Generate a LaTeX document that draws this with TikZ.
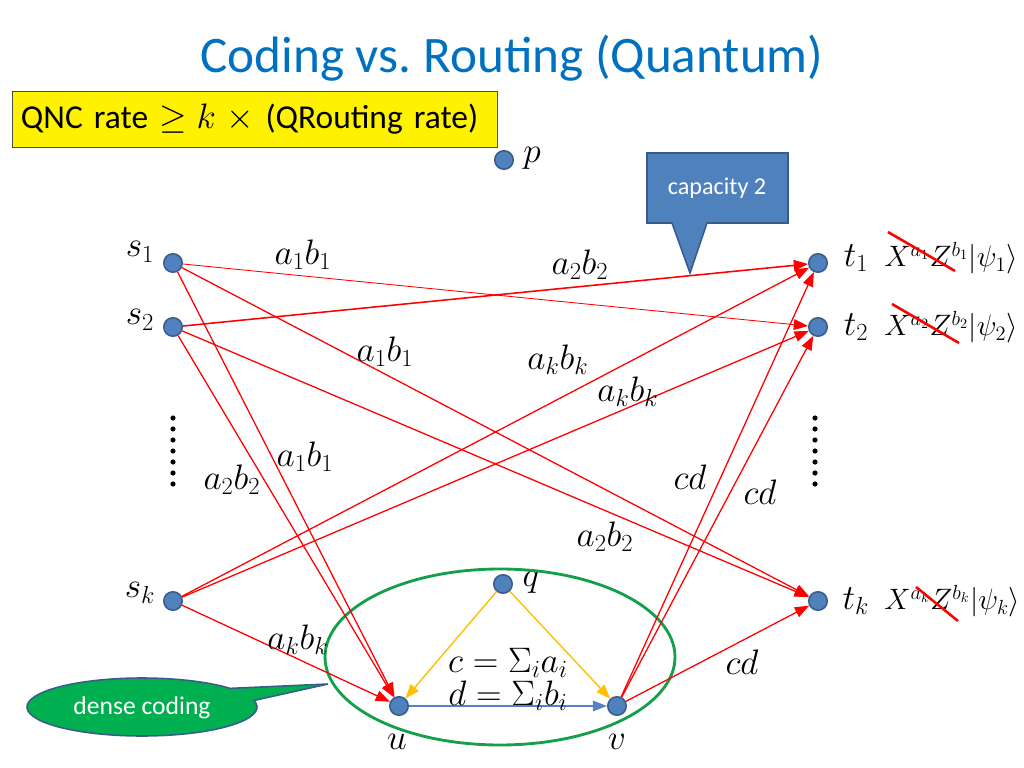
\documentclass[tikz,border=0pt]{standalone}
\usepackage{fontspec}
\setmainfont{Carlito}
\usetikzlibrary{arrows.meta}
\definecolor{nodeblue}{RGB}{79,129,189}
\definecolor{nodeborder}{RGB}{56,93,138}
\definecolor{titleblue}{RGB}{0,112,192}
\definecolor{dgreen}{RGB}{0,176,80}
\definecolor{ellgreen}{RGB}{20,160,75}
\definecolor{qorange}{RGB}{255,192,0}
\definecolor{uvblue}{RGB}{84,130,196}
\begin{document}
\begin{tikzpicture}[x=0.703125pt,y=-0.703125pt,
  vtx/.style={circle,fill=nodeblue,draw=nodeborder,line width=1.1pt,minimum size=13pt,inner sep=0pt},
  lab/.style={inner sep=0pt,font=\fontsize{23}{27}\selectfont},
  slab/.style={inner sep=0pt,font=\fontsize{20}{24}\selectfont},
  redge/.style={draw=red,line width=0.9pt,-{Triangle[length=10pt,width=7.5pt]}},
  oedge/.style={draw=qorange,line width=1pt,-{Triangle[length=10pt,width=7.5pt]}},
  bedge/.style={draw=uvblue,line width=1pt,-{Triangle[length=10pt,width=7.5pt]}},
  strike/.style={draw=red,line width=1.8pt},
  dotcol/.style={fill=black}
]
\useasboundingbox (0,0) rectangle (1024,768);

% title
\node[text=titleblue,font=\fontsize{36}{42}\selectfont] (title) at (512,58) {Coding vs.\ Routing (Quantum)};

% yellow box
\node[draw=black!70,fill=yellow,line width=0.6pt,anchor=north west,minimum width=341pt,minimum height=39.5pt,inner xsep=6pt,font=\fontsize{23.5}{28}\selectfont,align=left,text width=329pt] (rate) at (12,91) {QNC rate $\geq k$ $\times$ (QRouting rate)};

% vertices
\node[vtx] (p) at (504,160) {};
\node[vtx] (s1) at (173,263) {};
\node[vtx] (s2) at (173,327) {};
\node[vtx] (sk) at (173,601) {};
\node[vtx] (t1) at (818,263) {};
\node[vtx] (t2) at (818,327) {};
\node[vtx] (tk) at (818,601) {};
\node[vtx] (q) at (503,584) {};
\node[vtx] (u) at (399,706) {};
\node[vtx] (v) at (617,706) {};

% vertex labels
\node[lab] (lp) at (532,158) {$p$};
\node[lab] (ls1) at (140,252) {$s_1$};
\node[lab] (ls2) at (140,320) {$s_2$};
\node[lab] (lsk) at (140,593) {$s_k$};
\node[lab] (lt1) at (856,258) {$t_1$};
\node[lab] (lt2) at (856,327) {$t_2$};
\node[lab] (ltk) at (856,601) {$t_k$};
\node[lab] (lq) at (531,582) {$q$};
\node[lab] (lu) at (397,742) {$u$};
\node[lab] (lv) at (617,742) {$v$};

% received states
\node[slab,anchor=west] (x1) at (884,258) {$X^{a_1}Z^{b_1}|\psi_1\rangle$};
\node[slab,anchor=west] (x2) at (884,327) {$X^{a_2}Z^{b_2}|\psi_2\rangle$};
\node[slab,anchor=west] (xk) at (884,601) {$X^{a_k}Z^{b_k}|\psi_k\rangle$};
\draw[strike] (888,232) -- (955,271);
\draw[strike] (892,304) -- (959,343);
\draw[strike] (916,587) -- (958,621);

% dots
\foreach \yy in {418,429,440,451,462,473,484} {
  \fill[dotcol] (173,\yy) circle[radius=2.6];
  \fill[dotcol] (815,\yy) circle[radius=2.6];
}

% dense coding ellipse
\draw[ellgreen,line width=2pt] (500,657) ellipse[x radius=175, y radius=88];

% red edges
\draw[redge,line width=0.6pt] (s1) -- (t2);
\draw[redge,line width=1.1pt] (s2) -- (t1);
\draw[redge] (s1) -- (tk);
\draw[redge] (s2) -- (tk);
\draw[redge] (s1) -- (u);
\draw[redge] (s2) -- (u);
\draw[redge] (sk) -- (t1);
\draw[redge] (sk) -- (t2);
\draw[redge] (sk) -- (u);
\draw[redge] (v) -- (t1);
\draw[redge] (v) -- (t2);
\draw[redge] (v) -- (tk);
\draw[oedge] (q) -- (u);
\draw[oedge] (q) -- (v);
\draw[bedge] (u) -- (v);

% edge labels
\node[lab] (e1) at (303,255) {$a_1b_1$};
\node[lab] (e2) at (580,265) {$a_2b_2$};
\node[lab] (e3) at (385,352) {$a_1b_1$};
\node[lab] (e4) at (558,360) {$a_kb_k$};
\node[lab] (e5) at (628,392) {$a_kb_k$};
\node[lab] (e6) at (305,457) {$a_1b_1$};
\node[lab] (e7) at (232,480) {$a_2b_2$};
\node[lab] (e8) at (690,477) {$cd$};
\node[lab] (e9) at (760,492) {$cd$};
\node[lab] (e10) at (605,537) {$a_2b_2$};
\node[lab] (e11) at (298,640) {$a_kb_k$};
\node[lab] (e12) at (742,662) {$cd$};
\node[lab] (ec) at (508,663) {$c=\Sigma_i a_i$};
\node[lab] (ed) at (508,696) {$d=\Sigma_i b_i$};

% capacity callout
\draw[fill=nodeblue,draw=nodeborder,line width=1.1pt] (647,153) -- (788,153) -- (788,223) -- (707,223) -- (690,273) -- (672,223) -- (647,223) -- cycle;
\node[text=white,font=\fontsize{17}{20}\selectfont] (cap) at (717,188) {capacity 2};

% dense coding callout
\begin{scope}[shift={(142,707)},x=0.703125pt,y=0.703125pt]
  \draw[fill=dgreen,draw=nodeborder,line width=1.1pt] (186,23) -- (13:115 and 29) arc[start angle=13,end angle=-320,x radius=115,y radius=29] -- cycle;
\end{scope}
\node[text=white,font=\fontsize{18}{21}\selectfont] (dc) at (142,708) {dense coding};
\end{tikzpicture}
\end{document}
